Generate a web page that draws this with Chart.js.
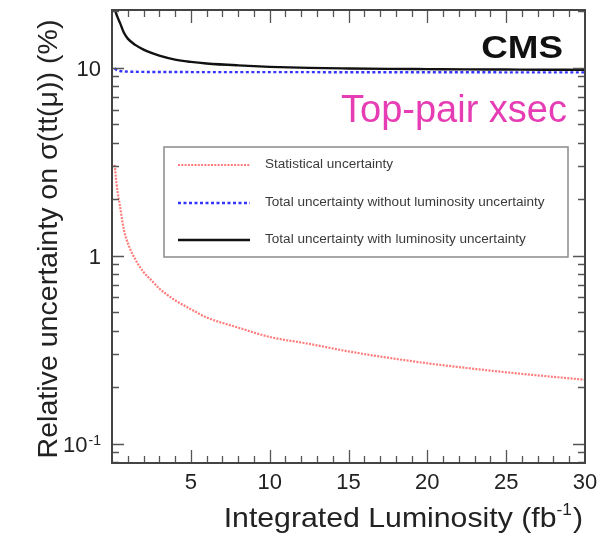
<!DOCTYPE html>
<html>
<head>
<meta charset="utf-8">
<script src="https://cdn.jsdelivr.net/npm/chart.js@4.4.1/dist/chart.umd.min.js"></script>
<style>
  html, body { margin: 0; padding: 0; background: #fff; }
  canvas { display: block; }
</style>
</head>
<body>
<canvas id="c" width="612" height="533"></canvas>
<script>
// Integrated luminosity (fb^-1) at which the uncertainties are quoted
const luminosity = [0.1, 0.17, 0.25, 0.35, 0.5, 0.75, 1, 1.5, 2, 2.5, 3, 4, 5, 6, 8, 10, 12.5, 15, 17.5, 20, 22.5, 25, 27.5, 30];
// Relative uncertainties (%)
const statUnc       = [null, 3.05, 2.6, 2.2, 1.85, 1.38, 1.17, 0.95, 0.82, 0.74, 0.67, 0.58, 0.52, 0.47, 0.415, 0.37, 0.34, 0.31, 0.287, 0.268, 0.253, 0.24, 0.229, 0.219];
const totalNoLumi   = [null, 9.95, 9.8, 9.7, 9.62, 9.57, 9.54, 9.52, 9.51, 9.5, 9.5, 9.5, 9.49, 9.49, 9.48, 9.48, 9.48, 9.47, 9.47, 9.47, 9.47, 9.46, 9.46, 9.46];
const totalWithLumi = [22, 20.6, 19.6, 18.6, 17.4, 15.4, 14.3, 13.2, 12.5, 12.0, 11.6, 11.05, 10.75, 10.55, 10.3, 10.12, 9.99, 9.92, 9.87, 9.84, 9.81, 9.79, 9.77, 9.75];

const seriesNames = ['Statistical uncertainty', 'Total uncertainty without luminosity uncertainty', 'Total uncertainty with luminosity uncertainty'];
const xTickLabels = [5, 10, 15, 20, 25, 30];
const yTickValues = [0.1, 1, 10];
const yTickBase = ['10', '1', '10'];
const yTickExp = ['-1', '', ''];

const FONT = '"Liberation Sans", Arial, Helvetica, sans-serif';

function toPoints(values) {
  const pts = [];
  luminosity.forEach((x, i) => { if (values[i] !== null) pts.push({ x: x, y: values[i] }); });
  return pts;
}

// Frame, inward ticks, labels, legend and annotations
const decorations = {
  id: 'decorations',
  afterDraw(chart) {
    const { ctx, chartArea: a, scales } = chart;
    const xs = scales.x, ys = scales.y;
    ctx.save();

    // ticks
    ctx.strokeStyle = '#555';
    ctx.lineWidth = 1.3;
    ctx.beginPath();
    for (let v = 1; v < 30; v++) {
      const px = Math.round(xs.getPixelForValue(v)) + 0.5;
      const len = v % 5 === 0 ? 13 : 7;
      ctx.moveTo(px, a.bottom); ctx.lineTo(px, a.bottom - len);
      ctx.moveTo(px, a.top); ctx.lineTo(px, a.top + len);
    }
    [0.01, 0.1, 1, 10].forEach(d => {
      for (let m = 1; m <= 9; m++) {
        const v = m * d;
        if (v <= ys.min || v >= ys.max) continue;
        const py = Math.round(ys.getPixelForValue(v)) + 0.5;
        const len = m === 1 ? 12 : 7;
        ctx.moveTo(a.left, py); ctx.lineTo(a.left + len, py);
        ctx.moveTo(a.right, py); ctx.lineTo(a.right - len, py);
      }
    });
    ctx.stroke();

    // frame
    ctx.strokeStyle = '#444';
    ctx.lineWidth = 2;
    ctx.strokeRect(a.left, a.top, a.right - a.left, a.bottom - a.top);

    // x tick labels (page edge trims the last one)
    ctx.save();
    ctx.beginPath(); ctx.rect(0, 0, 598, 533); ctx.clip();
    ctx.fillStyle = '#222';
    ctx.font = '22px ' + FONT;
    ctx.textAlign = 'center';
    ctx.textBaseline = 'alphabetic';
    xTickLabels.forEach(v => ctx.fillText(String(v), xs.getPixelForValue(v), a.bottom + 26));
    ctx.restore();

    // y tick labels
    ctx.fillStyle = '#222';
    ctx.textBaseline = 'alphabetic';
    yTickValues.forEach((v, i) => {
      const py = ys.getPixelForValue(v);
      let right = 101;
      if (yTickExp[i]) {
        ctx.font = '14px ' + FONT;
        ctx.textAlign = 'right';
        ctx.fillText(yTickExp[i], right, py + 1);
        right -= ctx.measureText(yTickExp[i]).width + 1;
      }
      ctx.font = '22px ' + FONT;
      ctx.textAlign = 'right';
      ctx.fillText(yTickBase[i], right, py + 8);
    });

    // x axis title with superscript, slightly widened
    ctx.fillStyle = '#222';
    const t1 = 'Integrated Luminosity (fb', t2 = '-1', t3 = ')';
    const sx = 1.08;
    ctx.font = '28px ' + FONT;
    const w1 = ctx.measureText(t1).width, w3 = ctx.measureText(t3).width;
    ctx.font = '16px ' + FONT;
    const w2 = ctx.measureText(t2).width;
    const total = w1 + w2 + w3 + 1;
    ctx.save();
    ctx.translate(583 - total * sx, 527);
    ctx.scale(sx, 1);
    let xx = 0;
    ctx.textAlign = 'left';
    ctx.font = '28px ' + FONT; ctx.fillText(t1, xx, 0); xx += w1;
    ctx.font = '16px ' + FONT; ctx.fillText(t2, xx, -12); xx += w2 + 1;
    ctx.font = '28px ' + FONT; ctx.fillText(t3, xx, 0);
    ctx.restore();

    // y axis title
    ctx.save();
    ctx.translate(57, 239);
    ctx.rotate(-Math.PI / 2);
    ctx.scale(1.02, 1);
    ctx.font = '28px ' + FONT;
    ctx.textAlign = 'center';
    ctx.fillText('Relative uncertainty on \u03c3(tt(\u03bc)) (%)', 0, 0);
    ctx.restore();

    // legend
    ctx.strokeStyle = '#8a8a8a';
    ctx.lineWidth = 1.5;
    ctx.strokeRect(164, 147, 404, 110);
    const rows = [165, 203, 240];
    chart.data.datasets.forEach((ds, i) => {
      ctx.save();
      ctx.strokeStyle = ds.borderColor;
      ctx.lineWidth = ds.borderWidth;
      ctx.setLineDash(ds.borderDash || []);
      ctx.beginPath();
      ctx.moveTo(178, rows[i]); ctx.lineTo(250, rows[i]);
      ctx.stroke();
      ctx.restore();
      ctx.save();
      ctx.translate(265, rows[i]);
      ctx.scale(1.13, 1);
      ctx.fillStyle = '#3a3a3a';
      ctx.font = '12px ' + FONT;
      ctx.textAlign = 'left';
      ctx.textBaseline = 'middle';
      ctx.fillText(ds.label, 0, 0);
      ctx.restore();
    });

    // experiment label
    ctx.textBaseline = 'alphabetic';
    ctx.save();
    ctx.translate(563, 58);
    ctx.scale(1.15, 1);
    ctx.font = 'bold 32px ' + FONT;
    ctx.fillStyle = '#111';
    ctx.textAlign = 'right';
    ctx.fillText('CMS', 0, 0);
    ctx.restore();

    ctx.font = '38px ' + FONT;
    ctx.fillStyle = '#e63cb4';
    ctx.textAlign = 'right';
    ctx.fillText('Top-pair xsec', 567, 122);

    ctx.restore();
  }
};

new Chart(document.getElementById('c'), {
  type: 'line',
  data: {
    datasets: [
      { label: seriesNames[0], data: toPoints(statUnc), borderColor: '#ff7c7c', borderWidth: 2.2, borderDash: [2, 1.3], pointRadius: 0, cubicInterpolationMode: 'monotone' },
      { label: seriesNames[1], data: toPoints(totalNoLumi), borderColor: '#3434ff', borderWidth: 2.4, borderDash: [3, 2.5], pointRadius: 0, cubicInterpolationMode: 'monotone' },
      { label: seriesNames[2], data: toPoints(totalWithLumi), borderColor: '#111', borderWidth: 2.4, pointRadius: 0, cubicInterpolationMode: 'monotone' }
    ]
  },
  options: {
    responsive: false,
    animation: false,
    layout: { padding: { left: 112, right: 27, top: 10, bottom: 70 } },
    scales: {
      x: { type: 'linear', min: 0, max: 30, display: false },
      y: { type: 'logarithmic', min: 0.079, max: 20.3, display: false }
    },
    plugins: { legend: { display: false }, tooltip: { enabled: false } }
  },
  plugins: [decorations]
});
</script>
</body>
</html>
